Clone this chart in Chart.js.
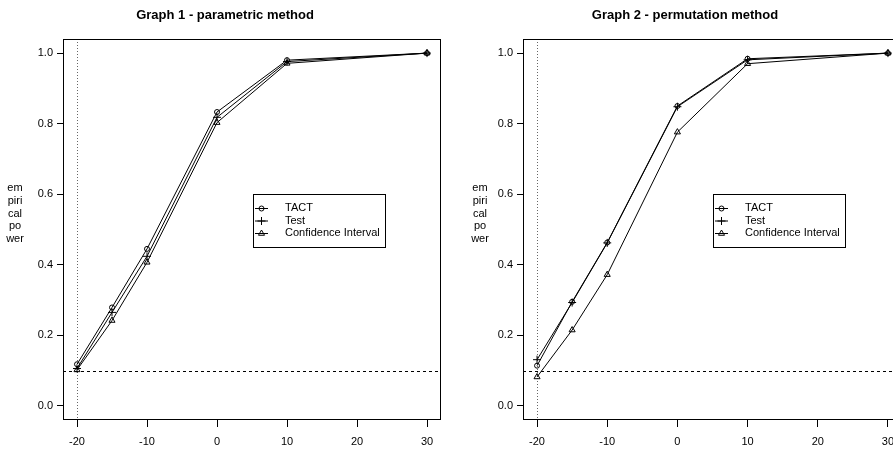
<!DOCTYPE html>
<html>
<head>
<meta charset="utf-8">
<script src="https://cdn.jsdelivr.net/npm/chart.js@4/dist/chart.umd.min.js"></script>
<style>
html,body{margin:0;padding:0;background:#fff;overflow:hidden;width:893px;height:456px;}
.wrap{position:absolute;top:0;height:456px;}
</style>
</head>
<body>
<div class="wrap" style="left:0;width:446px;"><canvas id="c1"></canvas></div>
<div class="wrap" style="left:446px;width:470px;"><canvas id="c2"></canvas></div>
<script>
// ---- data ----
const xValues = [-20, -15, -10, 0, 10, 30];
const xTicks = [-20, -10, 0, 10, 20, 30];
const yTicks = [0, 0.2, 0.4, 0.6, 0.8, 1.0];
const seriesNames = ['TACT', 'Test', 'Confidence Interval'];
const chartTitles = ['Graph 1 - parametric method', 'Graph 2 - permutation method'];
const yLabelLines = ['em', 'piri', 'cal', 'po', 'wer'];
const refX = -20;
const refY = 0.1;

const g1Tact = [0.118, 0.279, 0.445, 0.833, 0.980, 1.0];
const g1Test = [0.106, 0.265, 0.424, 0.818, 0.976, 1.0];
const g1CI   = [0.102, 0.242, 0.407, 0.803, 0.971, 1.0];

const g2Tact = [0.114, 0.295, 0.463, 0.850, 0.984, 1.0];
const g2Test = [0.131, 0.293, 0.462, 0.848, 0.981, 1.0];
const g2CI   = [0.082, 0.215, 0.372, 0.776, 0.970, 1.0];

// ---- styling ----
const FONT = 'Arial, "Liberation Sans", sans-serif';
const pointStyles = ['circle', 'cross', 'triangle'];
const pointRadii = [2.5, 4, 3.5];

function toPts(arr) { return xValues.map((x, i) => ({ x: x, y: arr[i] })); }

function makeDecor(opts) {
  return {
    id: 'decor',
    beforeDatasetsDraw(chart) {
      const ctx = chart.ctx, a = chart.chartArea;
      const xs = chart.scales.x, ys = chart.scales.y;
      ctx.save();
      const px = Math.round(xs.getPixelForValue(refX)) + 0.5;
      ctx.strokeStyle = '#666';
      ctx.lineWidth = 1;
      ctx.setLineDash([1, 2]);
      ctx.beginPath(); ctx.moveTo(px, a.top); ctx.lineTo(px, a.bottom); ctx.stroke();
      const py = Math.round(ys.getPixelForValue(refY)) + 0.5;
      ctx.strokeStyle = '#000';
      ctx.setLineDash([3, 3]);
      ctx.beginPath(); ctx.moveTo(a.left, py); ctx.lineTo(a.right, py); ctx.stroke();
      ctx.restore();
    },
    afterDraw(chart) {
      const ctx = chart.ctx, a = chart.chartArea;
      ctx.save();
      ctx.strokeStyle = '#000';
      ctx.lineWidth = 1;
      ctx.setLineDash([]);
      ctx.strokeRect(a.left + 0.5, a.top + 0.5, a.right - a.left - 1, a.bottom - a.top - 1);
      // title
      ctx.fillStyle = '#000';
      ctx.font = 'bold 13px ' + FONT;
      ctx.textAlign = 'center';
      ctx.textBaseline = 'middle';
      ctx.fillText(opts.title, opts.titleX, 15);
      // y label
      ctx.font = '11px ' + FONT;
      yLabelLines.forEach((t, i) => ctx.fillText(t, opts.ylabX, 188 + i * 12.75));
      // legend
      const lx = a.left + 190, ly = 194, lw = 132, lh = 53;
      ctx.strokeRect(lx + 0.5, ly + 0.5, lw, lh);
      const rowY = [208, 220.5, 233];
      seriesNames.forEach((name, i) => {
        const y = rowY[i];
        ctx.beginPath(); ctx.moveTo(lx + 2, y + 0.5); ctx.lineTo(lx + 15, y + 0.5); ctx.stroke();
        ctx.fillStyle = 'rgba(0,0,0,0)';
        Chart.helpers.drawPoint(ctx, { pointStyle: pointStyles[i], radius: pointRadii[i], rotation: 0, borderWidth: 1 }, lx + 8.5, y + 0.5);
        ctx.fillStyle = '#000';
        ctx.textAlign = 'left';
        ctx.fillText(name, lx + 32, y);
      });
      ctx.restore();
    }
  };
}

function makeChart(id, series, opts) {
  const datasets = series.map((arr, i) => ({
    label: seriesNames[i],
    data: toPts(arr),
    borderColor: '#000',
    borderWidth: 1,
    backgroundColor: 'rgba(0,0,0,0)',
    pointStyle: pointStyles[i],
    pointRadius: pointRadii[i],
    pointBorderWidth: 1,
    pointBorderColor: '#000',
    pointBackgroundColor: 'rgba(0,0,0,0)',
    tension: 0,
    fill: false
  }));
  return new Chart(document.getElementById(id), {
    type: 'line',
    data: { datasets },
    plugins: [makeDecor(opts)],
    options: {
      responsive: true,
      maintainAspectRatio: false,
      animation: false,
      layout: { padding: { left: 0, right: opts.padRight, top: 39, bottom: 0 } },
      plugins: { legend: { display: false }, title: { display: false }, tooltip: { enabled: false } },
      scales: {
        x: {
          type: 'linear', min: -22, max: 32,
          afterBuildTicks: s => { s.ticks = xTicks.map(v => ({ value: v })); },
          afterFit: s => { s.height = 36; },
          grid: { drawOnChartArea: false, drawTicks: true, tickLength: 7, color: '#000', lineWidth: 1 },
          border: { display: false },
          ticks: { color: '#000', font: { family: FONT, size: 11 }, padding: 8, maxRotation: 0, autoSkip: false,
                   callback: v => String(v) }
        },
        y: {
          type: 'linear', min: -0.04, max: 1.04,
          afterBuildTicks: s => { s.ticks = yTicks.map(v => ({ value: v })); },
          afterFit: s => { s.width = opts.yWidth; },
          grid: { drawOnChartArea: false, drawTicks: true, tickLength: 6, color: '#000', lineWidth: 1 },
          border: { display: false },
          ticks: { color: '#000', font: { family: FONT, size: 11 }, padding: 4, autoSkip: false,
                   callback: v => Number(v).toFixed(1) }
        }
      }
    }
  });
}

makeChart('c1', [g1Tact, g1Test, g1CI], { title: chartTitles[0], titleX: 225, ylabX: 15, yWidth: 63, padRight: 3 });
makeChart('c2', [g2Tact, g2Test, g2CI], { title: chartTitles[1], titleX: 239, ylabX: 34, yWidth: 77, padRight: 14 });
</script>
</body>
</html>
